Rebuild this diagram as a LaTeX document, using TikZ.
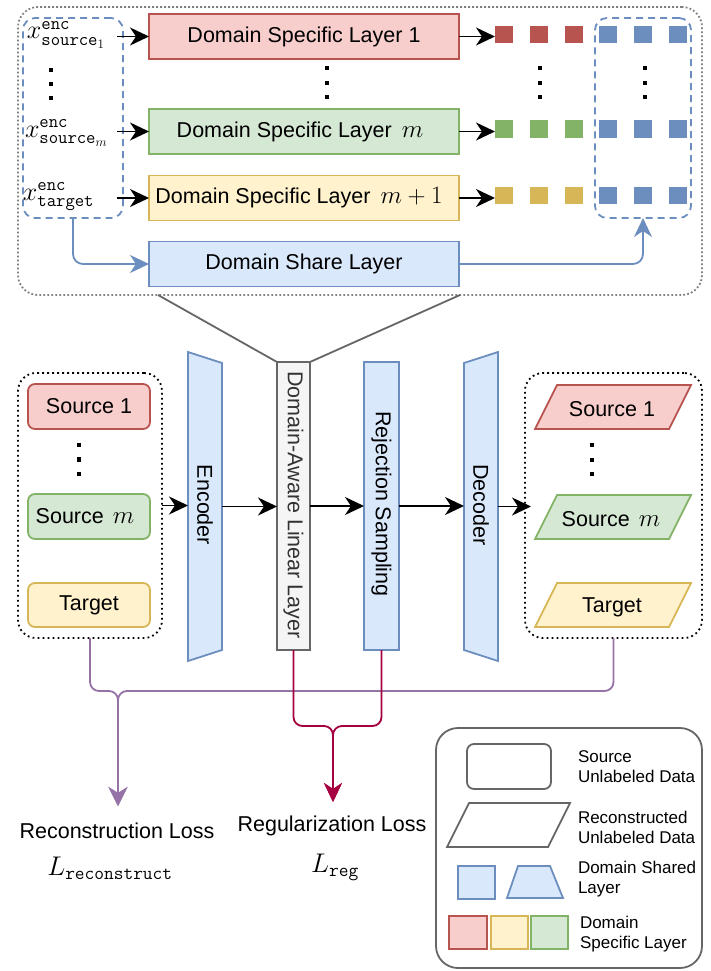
\RequirePackage{fix-cm}
\documentclass[tikz,border=0pt]{standalone}
\usepackage[no-math]{fontspec}
\setmainfont{Liberation Sans}
\usetikzlibrary{arrows.meta,calc}

\definecolor{redS}{HTML}{B85450}\definecolor{redF}{HTML}{F8CECC}
\definecolor{grnS}{HTML}{82B366}\definecolor{grnF}{HTML}{D5E8D4}
\definecolor{ylwS}{HTML}{D6B656}\definecolor{ylwF}{HTML}{FFF2CC}
\definecolor{bluS}{HTML}{6C8EBF}\definecolor{bluF}{HTML}{DAE8FC}
\definecolor{gryS}{HTML}{666666}\definecolor{gryF}{HTML}{F5F5F5}
\definecolor{purS}{HTML}{9673A6}\definecolor{crmS}{HTML}{A50040}
\definecolor{dotG}{HTML}{808080}\definecolor{txtG}{HTML}{333333}

% inline math set a little larger than the surrounding text
\newcommand{\mbig}[1]{{\fontsize{25}{26}\selectfont$#1$}}

\tikzset{
  every node/.style={font=\fontsize{21.5}{26}\selectfont, outer sep=0pt},
  lw/.style={line width=1.8pt},
  layerbox/.style={lw, draw, minimum width=310, minimum height=45, inner sep=0pt},
  redbox/.style={draw=redS, fill=redF},
  grnbox/.style={draw=grnS, fill=grnF},
  ylwbox/.style={draw=ylwS, fill=ylwF},
  blubox/.style={draw=bluS, fill=bluF},
  srcbox/.style={lw, rounded corners=7, minimum width=122, minimum height=45, inner sep=0pt},
  topframe/.style={lw, draw=dotG, dash pattern=on 1.8pt off 2.2pt, rounded corners=20},
  dotframe/.style={lw, draw=black, dash pattern=on 1.8pt off 3.2pt, rounded corners=18},
  dashframe/.style={lw, draw=bluS, dash pattern=on 7pt off 5pt, rounded corners=12},
  sq/.style={minimum width=18, minimum height=17, inner sep=0pt},
  vdot/.style={fill=black, minimum size=4.5, inner sep=0pt},
  ghost/.style={inner sep=0pt},
  encmath/.style={anchor=base west, inner sep=0pt, font=\fontsize{26}{30}\selectfont},
  lossmath/.style={font=\fontsize{27}{32}\selectfont},
  tipA/.style={-{Stealth[length=19pt,width=18pt,inset=6pt]}},
  blk/.style={lw, tipA},
  bluarrow/.style={lw, draw=bluS, rounded corners=10, tipA},
  purarrow/.style={lw, draw=purS, rounded corners=9, -{Stealth[length=19pt,width=19pt,inset=6pt]}},
  crmarrow/.style={lw, draw=crmS, rounded corners=9, -{Stealth[length=19pt,width=18pt,inset=6pt]}},
  legtxt/.style={font=\fontsize{17}{20}\selectfont, align=left, anchor=west, inner sep=0pt},
}

\begin{document}
\begin{tikzpicture}[x=1pt,y=-1pt]
\useasboundingbox (0,0) rectangle (711,971);

% ---------- domain-aware linear layer, expanded ----------
\node[topframe, minimum width=684, minimum height=288] (topc) at (360,151) {};
\node[dashframe, minimum width=100, minimum height=200] (inbox) at (73,118) {};
\node[dashframe, minimum width=96, minimum height=200] (outbox) at (643,118) {};

\node[layerbox, redbox] (dsl1) at (304,36.5) {Domain Specific Layer 1};
\node[layerbox, grnbox] (dslm) at (304,131.5) {\hspace{-8pt}Domain Specific Layer\hspace{10pt}\mbig{m}};
\node[layerbox, ylwbox] (dslt) at (304,198) {\hspace{-10pt}Domain Specific Layer\hspace{10pt}\mbig{m+1}};
\node[layerbox, blubox] (dshare) at (304,264) {Domain Share Layer};

\node[encmath] (xs1) at (27,39) {$x^{\mathtt{enc}}_{\mathtt{source}_1}$};
\node[encmath] (xsm) at (25,137) {$x^{\mathtt{enc}}_{\mathtt{source}_m}$};
\node[encmath] (xtg) at (23,200) {$x^{\mathtt{enc}}_{\mathtt{target}}$};

\foreach \y [count=\i] in {70,84,98} {
  \node[vdot] (dl\i) at (51,\y) {};
}
\foreach \y [count=\i] in {68,83,97} {
  \node[vdot] (dc\i) at (327,\y) {};
  \node[vdot] (ds\i) at (540,\y) {};
  \node[vdot] (db\i) at (645,\y) {};
}

% feature squares
\foreach \x [count=\i] in {504,539,574} {
  \node[sq, fill=redS] (r\i) at (\x,35) {};
  \node[sq, fill=grnS] (g\i) at (\x,129) {};
  \node[sq, fill=ylwS] (y\i) at (\x,195) {};
}
\foreach \x [count=\i] in {607.5,643,678} {
  \node[sq, fill=bluS] (b\i) at (\x,35) {};
  \node[sq, fill=bluS] (bm\i) at (\x,129) {};
  \node[sq, fill=bluS] (bt\i) at (\x,195) {};
}

\draw[blk] ($(inbox.east |- dsl1.west)+(-6,0)$) -- (dsl1.west);
\draw[blk] ($(inbox.east |- dslm.west)+(-6,0)$) -- (dslm.west);
\draw[blk] ($(inbox.east |- dslt.west)+(-6,0)$) -- (dslt.west);
\draw[blk] (dsl1.east) -- (dsl1.east -| r1.west);
\draw[blk] (dslm.east) -- (dslm.east -| g1.west);
\draw[blk] (dslt.east) -- (dslt.east -| y1.west);
\draw[bluarrow] (inbox.south) |- (dshare.west);
\draw[bluarrow] (dshare.east) -| (outbox.south);

% ---------- main pipeline ----------
\node[dotframe, minimum width=144, minimum height=265] (lcont) at (90,505.5) {};
\node[srcbox, redbox] (ls1) at (89,406.5) {Source 1};
\node[srcbox, grnbox] (lsm) at (89,516.5) {\hspace{-8pt}Source\hspace{9pt}\mbig{m}};
\node[srcbox, ylwbox, minimum height=44] (lst) at (89,605) {Target};
\foreach \y [count=\i] in {445,459.5,474} {
  \node[vdot] (ld\i) at (79,\y) {};
}

% encoder
\draw[lw, draw=bluS, fill=bluF] (188,352) -- (222,363) -- (222,650) -- (188,661) -- cycle;
\node[ghost, minimum width=34, minimum height=309] (enc) at (205,506.5) {};
\node[rotate=-90] (enctxt) at (205,505) {Encoder};

% domain-aware linear layer
\node[lw, draw=gryS, fill=gryF, minimum width=33, minimum height=288, inner sep=0pt] (dal) at (293.5,506) {};
\node[rotate=-90, text=txtG] (daltxt) at (293.5,505) {Domain-Aware Linear Layer};

% rejection sampling
\node[lw, blubox, minimum width=35, minimum height=288, inner sep=0pt] (rs) at (381.5,506) {};
\node[rotate=-90] (rstxt) at (381.5,504) {Rejection Sampling};

% decoder
\draw[lw, draw=bluS, fill=bluF] (464,363) -- (498,352) -- (498,661) -- (464,650) -- cycle;
\node[ghost, minimum width=34, minimum height=309] (dec) at (481,506.5) {};
\node[rotate=-90] (dectxt) at (481,505) {Decoder};

% reconstructed data
\node[dotframe, minimum width=177, minimum height=265] (rcont) at (613.5,505.5) {};
\draw[lw, draw=redS, fill=redF] (535,429) -- (557,385) -- (691,385) -- (669,429) -- cycle;
\node (rr1) at (612,409) {Source 1};
\draw[lw, draw=grnS, fill=grnF] (535,539) -- (557,495) -- (691,495) -- (669,539) -- cycle;
\node (rrm) at (611,519) {Source\hspace{9pt}\mbig{m}};
\draw[lw, draw=ylwS, fill=ylwF] (535,627) -- (557,583) -- (691,583) -- (669,627) -- cycle;
\node (rrt) at (612,607) {Target};
\foreach \y [count=\i] in {445,460,474} {
  \node[vdot] (rd\i) at (592,\y) {};
}

\draw[blk] (lcont.east) -- (lcont.east -| enc.west);
\draw[blk] (enc.east) -- (enc.east -| dal.west);
\draw[blk] (dal.east) -- (dal.east -| rs.west);
\draw[blk] (rs.east) -- (rs.east -| dec.west);
\draw[blk] (dec.east) -- ($(dec.east -| rcont.west)+(6,0)$);

% zoom-out lines from the expanded layer
\coordinate (zl) at (158,295);
\coordinate (zr) at (460,295);
\draw[lw, draw=gryS] (zl) -- (dal.north west);
\draw[lw, draw=gryS] (zr) -- (dal.north east);

% ---------- losses ----------
\coordinate (pj) at (118,691);
\coordinate (rtip) at (118,806);
\coordinate (cj) at (333,726);
\coordinate (gtip) at (333,802);
\draw[purarrow] (lcont.south) |- (pj) -- (rtip);
\draw[purarrow] (rcont.south) |- (pj) -- (rtip);
\draw[crmarrow] (dal.south) |- (cj) -- (gtip);
\draw[crmarrow] (rs.south) |- (cj) -- (gtip);

\node (rlt) at (117,831) {Reconstruction Loss};
\node[lossmath] (rlm) at (110,868) {$L_{\mathtt{reconstruct}}$};
\node (glt) at (332,826) {Regularization Loss};
\node[lossmath] (glm) at (335,867) {$L_{\mathtt{reg}}$};

% ---------- legend ----------
\node[lw, draw=gryS, rounded corners=22, minimum width=266, minimum height=240] (leg) at (569,848) {};
\node[lw, draw=gryS, rounded corners=7, minimum width=84, minimum height=45] (lg1) at (509,766.5) {};
\draw[lw, draw=gryS] (447,847) -- (469,803) -- (570,803) -- (548,847) -- cycle;
\node[lw, blubox, minimum width=37, minimum height=33, inner sep=0pt] (lg3) at (476.5,882.5) {};
\draw[lw, draw=bluS, fill=bluF] (507,898) -- (518,866) -- (550,866) -- (563,898) -- cycle;
\node[lw, redbox, minimum width=38, minimum height=33, inner sep=0pt] (lgr) at (468,932.5) {};
\node[lw, ylwbox, minimum width=37, minimum height=33, inner sep=0pt] (lgy) at (509.5,932.5) {};
\node[lw, grnbox, minimum width=37, minimum height=33, inner sep=0pt] (lgg) at (549.5,932.5) {};

\node[legtxt] (lt1) at (578,767) {Source\\Unlabeled Data};
\node[legtxt] (lt2) at (578,827) {Reconstructed\\Unlabeled Data};
\node[legtxt] (lt3) at (578,879) {Domain Shared\\Layer};
\node[legtxt] (lt4) at (580,934) {Domain\\Specific Layer};
\end{tikzpicture}
\end{document}
